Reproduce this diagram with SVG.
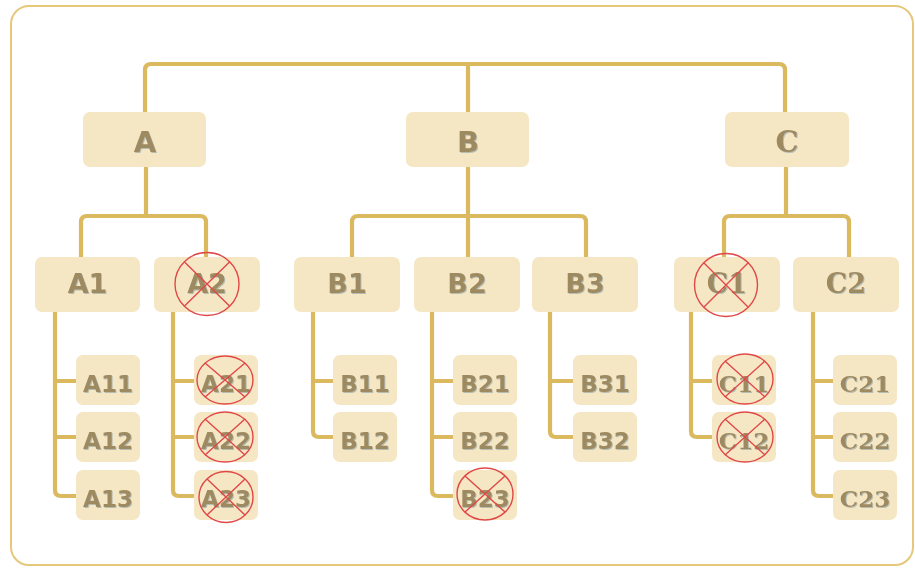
<svg xmlns="http://www.w3.org/2000/svg" width="915" height="568" viewBox="0 0 915 568">
  <defs>
    <filter id="txtShadow" x="-20%" y="-20%" width="140%" height="140%">
      <feDropShadow dx="1" dy="1" stdDeviation="0.4" flood-color="#7f9aa6" flood-opacity="0.55"/>
    </filter>
    <style>
      .frame { fill: #ffffff; stroke: #e6c87a; stroke-width: 2; }
      .link { fill: none; stroke: #dbb95e; stroke-width: 4.2; stroke-linejoin: round; }
      .box { fill: #f6e7c4; }
      .lbl { fill: #9e8a60; font-family: "DejaVu Sans", Verdana, "Liberation Sans", sans-serif; font-weight: bold; text-anchor: middle; filter: url(#txtShadow); }
      .serif { font-family: "DejaVu Serif", "Liberation Serif", serif; }
      .l1 { font-size: 29px; }
      .l2 { font-size: 27px; }
      .l3 { font-size: 23px; }
      .cross { fill: none; stroke: #e04848; stroke-width: 1.4; }
    </style>
  </defs>

  <rect class="frame" x="11" y="6" width="902" height="559" rx="18"/>

  <!-- connectors -->
  <g id="connectors">
    <path class="link" d="M145,112 V70 Q145,64 151,64 H779 Q785,64 785,70 V112 M468,64 V112"/>
    <path class="link" d="M146,167 V216 M81,257 V222 Q81,216 87,216 H200 Q206,216 206,222 V257"/>
    <path class="link" d="M468,167 V257 M352,257 V222 Q352,216 358,216 H580 Q586,216 586,222 V257"/>
    <path class="link" d="M786,167 V216 M724,257 V222 Q724,216 730,216 H843 Q849,216 849,222 V257"/>
    <path class="link" d="M55,312 V490 Q55,496 61,496 H76 M55,381 H76 M55,437 H76"/>
    <path class="link" d="M173,312 V490 Q173,496 179,496 H194 M173,381 H194 M173,437 H194"/>
    <path class="link" d="M313,312 V431 Q313,437 319,437 H333 M313,381 H333"/>
    <path class="link" d="M432,312 V490 Q432,496 438,496 H453 M432,381 H453 M432,437 H453"/>
    <path class="link" d="M550,312 V431 Q550,437 556,437 H573 M550,381 H573"/>
    <path class="link" d="M691,312 V431 Q691,437 697,437 H712 M691,381 H712"/>
    <path class="link" d="M813,312 V490 Q813,496 819,496 H833 M813,381 H833 M813,437 H833"/>
  </g>

  <!-- top level -->
  <g id="node-A"><rect class="box" x="83" y="112" width="123" height="55" rx="7"/><text class="lbl l1" x="145" y="152">A</text></g>
  <g id="node-B"><rect class="box" x="406" y="112" width="123" height="55" rx="7"/><text class="lbl l1" x="468" y="152">B</text></g>
  <g id="node-C"><rect class="box" x="725" y="112" width="124" height="55" rx="7"/><text class="lbl l1 serif" x="787" y="152">C</text></g>

  <!-- second level -->
  <g id="node-A1"><rect class="box" x="35" y="257" width="105" height="55" rx="7"/><text class="lbl l2" x="87.5" y="293">A1</text></g>
  <g id="node-A2"><rect class="box" x="154" y="257" width="106" height="55" rx="7"/><text class="lbl l2" x="207" y="293">A2</text>
    <ellipse class="cross" cx="207" cy="284" rx="32" ry="31.5"/><path class="cross" d="M184.5,262 L229.5,306 M229.5,262 L184.5,306"/></g>
  <g id="node-B1"><rect class="box" x="294" y="257" width="106" height="55" rx="7"/><text class="lbl l2" x="347" y="293">B1</text></g>
  <g id="node-B2"><rect class="box" x="414" y="257" width="106" height="55" rx="7"/><text class="lbl l2" x="467" y="293">B2</text></g>
  <g id="node-B3"><rect class="box" x="532" y="257" width="106" height="55" rx="7"/><text class="lbl l2" x="585" y="293">B3</text></g>
  <g id="node-C1"><rect class="box" x="674" y="257" width="106" height="55" rx="7"/><text class="lbl l2 serif" x="727" y="293">C1</text>
    <ellipse class="cross" cx="726" cy="285" rx="31.5" ry="31.5"/><path class="cross" d="M704,263 L748,307 M748,263 L704,307"/></g>
  <g id="node-C2"><rect class="box" x="793" y="257" width="106" height="55" rx="7"/><text class="lbl l2 serif" x="846" y="293">C2</text></g>

  <!-- third level -->
  <g id="node-A11"><rect class="box" x="76" y="355" width="64" height="50" rx="7"/><text class="lbl l3" x="108" y="392">A11</text></g>
  <g id="node-A12"><rect class="box" x="76" y="412" width="64" height="50" rx="7"/><text class="lbl l3" x="108" y="449">A12</text></g>
  <g id="node-A13"><rect class="box" x="76" y="470" width="64" height="50" rx="7"/><text class="lbl l3" x="108" y="507">A13</text></g>

  <g id="node-A21"><rect class="box" x="194" y="355" width="64" height="50" rx="7"/><text class="lbl l3" x="226" y="392">A21</text>
    <ellipse class="cross" cx="225" cy="380" rx="28" ry="24"/><path class="cross" d="M205,363 L245,397 M245,363 L205,397"/></g>
  <g id="node-A22"><rect class="box" x="194" y="412" width="64" height="50" rx="7"/><text class="lbl l3" x="226" y="449">A22</text>
    <ellipse class="cross" cx="225" cy="437" rx="28" ry="25"/><path class="cross" d="M205,419 L245,455 M245,419 L205,455"/></g>
  <g id="node-A23"><rect class="box" x="194" y="470" width="64" height="50" rx="7"/><text class="lbl l3" x="226" y="507">A23</text>
    <ellipse class="cross" cx="226" cy="497" rx="27" ry="25.5"/><path class="cross" d="M207,479 L245,515 M245,479 L207,515"/></g>

  <g id="node-B11"><rect class="box" x="333" y="355" width="64" height="50" rx="7"/><text class="lbl l3" x="365" y="392">B11</text></g>
  <g id="node-B12"><rect class="box" x="333" y="412" width="64" height="50" rx="7"/><text class="lbl l3" x="365" y="449">B12</text></g>

  <g id="node-B21"><rect class="box" x="453" y="355" width="64" height="50" rx="7"/><text class="lbl l3" x="485" y="392">B21</text></g>
  <g id="node-B22"><rect class="box" x="453" y="412" width="64" height="50" rx="7"/><text class="lbl l3" x="485" y="449">B22</text></g>
  <g id="node-B23"><rect class="box" x="453" y="470" width="64" height="50" rx="7"/><text class="lbl l3" x="485" y="507">B23</text>
    <ellipse class="cross" cx="485" cy="494" rx="28" ry="26"/><path class="cross" d="M465,476 L505,512 M505,476 L465,512"/></g>

  <g id="node-B31"><rect class="box" x="573" y="355" width="64" height="50" rx="7"/><text class="lbl l3" x="605" y="392">B31</text></g>
  <g id="node-B32"><rect class="box" x="573" y="412" width="64" height="50" rx="7"/><text class="lbl l3" x="605" y="449">B32</text></g>

  <g id="node-C11"><rect class="box" x="712" y="355" width="64" height="50" rx="7"/><text class="lbl l3 serif" x="744" y="392">C11</text>
    <ellipse class="cross" cx="745" cy="379" rx="28" ry="25"/><path class="cross" d="M725,361 L765,397 M765,361 L725,397"/></g>
  <g id="node-C12"><rect class="box" x="712" y="412" width="64" height="50" rx="7"/><text class="lbl l3 serif" x="744" y="449">C12</text>
    <ellipse class="cross" cx="745" cy="437" rx="28" ry="25"/><path class="cross" d="M725,419 L765,455 M765,419 L725,455"/></g>

  <g id="node-C21"><rect class="box" x="833" y="355" width="64" height="50" rx="7"/><text class="lbl l3 serif" x="865" y="392">C21</text></g>
  <g id="node-C22"><rect class="box" x="833" y="412" width="64" height="50" rx="7"/><text class="lbl l3 serif" x="865" y="449">C22</text></g>
  <g id="node-C23"><rect class="box" x="833" y="470" width="64" height="50" rx="7"/><text class="lbl l3 serif" x="865" y="507">C23</text></g>
</svg>
